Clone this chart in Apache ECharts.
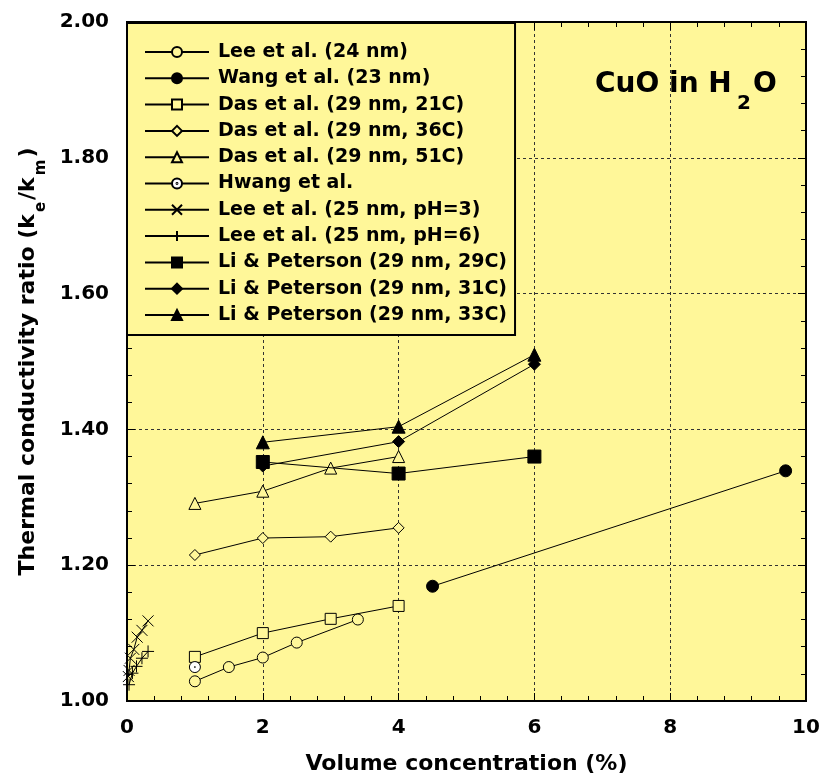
<!DOCTYPE html>
<html>
<head>
<meta charset="utf-8">
<script src="https://cdn.jsdelivr.net/npm/echarts@6/dist/echarts.min.js"></script>
<style>
html,body{margin:0;padding:0;background:#fff;}
#c{width:823px;height:778px;}
</style>
</head>
<body>
<div id="c"></div>
<script>
// ---- data ----
const lee24X = [1.0, 1.5, 2.0, 2.5, 3.4];
const lee24Y = [1.029, 1.050, 1.064, 1.086, 1.120];
const wangX = [4.5, 9.7];
const wangY = [1.169, 1.339];
const das21X = [1, 2, 3, 4];
const das21Y = [1.065, 1.100, 1.121, 1.140];
const das36X = [1, 2, 3, 4];
const das36Y = [1.215, 1.240, 1.242, 1.255];
const das51X = [1, 2, 3, 4];
const das51Y = [1.291, 1.309, 1.343, 1.360];
const hwangX = [1.0];
const hwangY = [1.050];
const lee3X = [0.02, 0.03, 0.05, 0.10, 0.15, 0.22, 0.31];
const lee3Y = [1.036, 1.045, 1.063, 1.076, 1.094, 1.104, 1.118];
const lee6X = [0.03, 0.08, 0.14, 0.22, 0.31];
const lee6Y = [1.024, 1.041, 1.051, 1.063, 1.073];
const li29X = [2, 4, 6];
const li29Y = [1.352, 1.335, 1.360];
const li31X = [2, 4, 6];
const li31Y = [1.346, 1.382, 1.496];
const li33X = [2, 4, 6];
const li33Y = [1.381, 1.404, 1.510];
const xTicks = [0, 2, 4, 6, 8, 10];
const yTicks = ['1.00', '1.20', '1.40', '1.60', '1.80', '2.00'];
const titleParts = ['CuO in H', '2', 'O'];

const FONT = 'DejaVu Sans';
const BG = '#FFF799';
const pair = (xs, ys) => xs.map((x, i) => [x, ys[i]]);

const XPATH = 'path://M0,0L10,10M10,0L0,10';
const PPATH = 'path://M5,0L5,10M0,5L10,5';
const HWPATH = 'path://M20,10A10,10,0,1,1,0,10A10,10,0,1,1,20,10ZM10.9,10A0.9,0.9,0,1,1,9.1,10A0.9,0.9,0,1,1,10.9,10Z';

function mk(name, xs, ys, symbol, size, fill, z) {
  return {
    name: name, type: 'line', data: pair(xs, ys),
    symbol: symbol, symbolSize: size, showAllSymbol: true,
    lineStyle: {color: '#000', width: 1},
    itemStyle: {color: fill, borderColor: '#000', borderWidth: 1},
    z: z || 2, silent: true, animation: false
  };
}

const series = [
  mk('Lee et al. (24 nm)', lee24X, lee24Y, 'circle', 11, BG),
  mk('Wang et al. (23 nm)', wangX, wangY, 'circle', 12, '#000'),
  mk('Das et al. (29 nm, 21C)', das21X, das21Y, 'rect', 11, BG),
  mk('Das et al. (29 nm, 36C)', das36X, das36Y, 'diamond', 11, BG),
  mk('Das et al. (29 nm, 51C)', das51X, das51Y, 'triangle', 12, BG),
  mk('Hwang et al.', hwangX, hwangY, HWPATH, 11, '#fff'),
  mk('Lee et al. (25 nm, pH=3)', lee3X, lee3Y, XPATH, 11, '#000'),
  mk('Lee et al. (25 nm, pH=6)', lee6X, lee6Y, PPATH, 12, '#000'),
  mk('Li & Peterson (29 nm, 31C)', li31X, li31Y, 'diamond', 12, '#000'),
  mk('Li & Peterson (29 nm, 29C)', li29X, li29Y, 'rect', 13, '#000', 3),
  mk('Li & Peterson (29 nm, 33C)', li33X, li33Y, 'triangle', 13, '#000')
];
const legendOrder = ['Lee et al. (24 nm)', 'Wang et al. (23 nm)', 'Das et al. (29 nm, 21C)',
  'Das et al. (29 nm, 36C)', 'Das et al. (29 nm, 51C)', 'Hwang et al.',
  'Lee et al. (25 nm, pH=3)', 'Lee et al. (25 nm, pH=6)', 'Li & Peterson (29 nm, 29C)',
  'Li & Peterson (29 nm, 31C)', 'Li & Peterson (29 nm, 33C)'];

const tickCommon = {show: true, inside: true, length: 8, lineStyle: {color: '#000', width: 1}};
const minorCommon = {show: true, splitNumber: 5, length: 5, lineStyle: {color: '#000', width: 1}};
const lineCommon = {show: true, onZero: false, lineStyle: {color: '#000', width: 2}};
const labelStyle = {fontFamily: FONT, fontWeight: 'bold', fontSize: 20, color: '#000'};

const chart = echarts.init(document.getElementById('c'), null, {renderer: 'canvas'});
chart.setOption({
  animation: false,
  backgroundColor: '#fff',
  graphic: [
    {type: 'text', left: 595, top: 71, z: 100, silent: true,
      style: {text: titleParts[0], fontFamily: FONT, fontWeight: 'bold', fontSize: 28, fill: '#000'}},
    {type: 'text', left: 737, top: 94, z: 100, silent: true,
      style: {text: titleParts[1], fontFamily: FONT, fontWeight: 'bold', fontSize: 20, fill: '#000'}},
    {type: 'text', left: 753, top: 71, z: 100, silent: true,
      style: {text: titleParts[2], fontFamily: FONT, fontWeight: 'bold', fontSize: 28, fill: '#000'}}
  ],
  grid: {left: 127, right: 17, top: 22, bottom: 77, show: true, backgroundColor: BG,
    borderColor: '#000', borderWidth: 2, containLabel: false, outerBoundsMode: 'none'},
  legend: {
    data: legendOrder, orient: 'vertical', left: 127, top: 23,
    selectedMode: false,
    itemWidth: 64, itemHeight: 12.5, itemGap: 6.3,
    padding: [19, 8, 10, 17],
    backgroundColor: BG, borderColor: '#000', borderWidth: 2,
    textStyle: {fontFamily: FONT, fontWeight: 'bold', fontSize: 19, color: '#000', lineHeight: 20, padding: [0, 0, 0, 4]}
  },
  xAxis: [{
    type: 'value', min: 0, max: 10, interval: 2, position: 'bottom',
    axisLine: lineCommon, axisTick: tickCommon, minorTick: minorCommon,
    axisLabel: Object.assign({margin: 17, formatter: v => String(xTicks[Math.round(v / 2)])}, labelStyle),
    splitLine: {show: true, lineStyle: {color: '#333', width: 1, type: [3, 3]}},
    name: 'Volume concentration (%)', nameLocation: 'middle', nameGap: 52,
    nameTextStyle: {fontFamily: FONT, fontWeight: 'bold', fontSize: 22, color: '#000'}
  }, {
    type: 'value', min: 0, max: 10, interval: 2, position: 'top',
    axisLine: lineCommon, axisTick: tickCommon, minorTick: minorCommon,
    axisLabel: {show: false}, splitLine: {show: false}
  }],
  yAxis: [{
    type: 'value', min: 1, max: 2, interval: 0.2, position: 'left',
    axisLine: lineCommon, axisTick: tickCommon, minorTick: minorCommon,
    axisLabel: Object.assign({margin: 18, formatter: v => yTicks[Math.round((v - 1) / 0.2)]}, labelStyle),
    splitLine: {show: true, lineStyle: {color: '#333', width: 1, type: [3, 3]}},
    name: '{a|Thermal conductivity ratio (k}{s|e}{a|/k}{s|m}{a|)}',
    nameLocation: 'middle', nameGap: 79,
    nameTextStyle: {
      rich: {
        a: {fontFamily: FONT, fontWeight: 'bold', fontSize: 22, color: '#000', lineHeight: 26},
        s: {fontFamily: FONT, fontWeight: 'bold', fontSize: 15, color: '#000', lineHeight: 16, padding: [26, 2, 0, 2]}
      }
    }
  }, {
    type: 'value', min: 1, max: 2, interval: 0.2, position: 'right',
    axisLine: lineCommon, axisTick: tickCommon, minorTick: minorCommon,
    axisLabel: {show: false}, splitLine: {show: false}
  }],
  series: series
});
</script>
</body>
</html>
